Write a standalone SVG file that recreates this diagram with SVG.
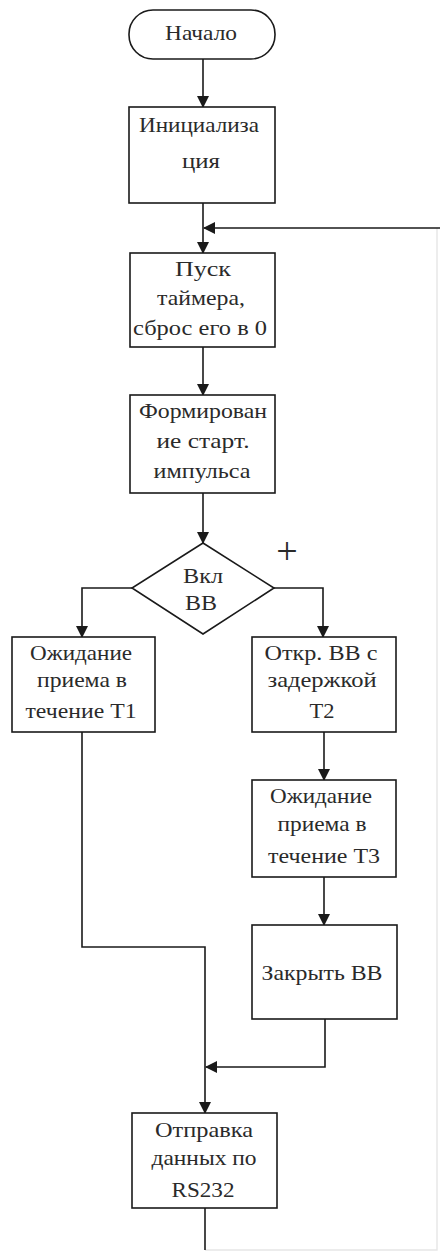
<svg xmlns="http://www.w3.org/2000/svg" width="440" height="1254" viewBox="0 0 440 1254" font-family="'Liberation Serif', 'Times New Roman', serif">
<defs>
<marker id="arr" markerUnits="userSpaceOnUse" markerWidth="12" markerHeight="12" viewBox="0 0 12 12" refX="11" refY="6" orient="auto">
<path d="M0,0 L12,6 L0,12 Z" fill="#1a1a1a"/>
</marker>
<style>
.n{fill:#fff;stroke:#1a1a1a;stroke-width:1.6}
.c{fill:none;stroke:#1a1a1a;stroke-width:1.6}
.f{fill:none;stroke:#e6e6e6;stroke-width:1.4}
text{font-family:'Liberation Serif','Times New Roman',serif;font-size:21px;font-weight:normal;fill:#2a2a2a;text-anchor:middle}
</style>
</defs>
<rect width="440" height="1254" fill="#fff"/>
<g id="connectors">
<path class="f" d="M205,1250 H437 V228"/>
<path class="c" d="M203,59 V107" marker-end="url(#arr)"/>
<path class="c" d="M203,203 V253" marker-end="url(#arr)"/>
<path class="c" d="M440,228 H204" marker-end="url(#arr)"/>
<path class="c" d="M203,347 V395" marker-end="url(#arr)"/>
<path class="c" d="M203,493 V543" marker-end="url(#arr)"/>
<path class="c" d="M132,588 H82 V637" marker-end="url(#arr)"/>
<path class="c" d="M274,588 H323 V637" marker-end="url(#arr)"/>
<path class="c" d="M324,732 V780" marker-end="url(#arr)"/>
<path class="c" d="M324,877 V925" marker-end="url(#arr)"/>
<path class="c" d="M325,1019 V1067 H206" marker-end="url(#arr)"/>
<path class="c" d="M82,732 V947 H205 V1113" marker-end="url(#arr)"/>
<path class="c" d="M205,1208 V1250"/>
</g>
<g id="start">
<rect class="n" x="129" y="10" width="146" height="49" rx="24" ry="24"/>
<text x="201" y="40" textLength="72" lengthAdjust="spacingAndGlyphs">Начало</text>
</g>
<g id="init">
<rect class="n" x="129" y="107" width="146" height="96"/>
<text x="199" y="132" textLength="120" lengthAdjust="spacingAndGlyphs">Инициализа</text>
<text x="201" y="168" textLength="38" lengthAdjust="spacingAndGlyphs">ция</text>
</g>
<g id="timer">
<rect class="n" x="130" y="253" width="145" height="94"/>
<text x="203" y="276" textLength="56" lengthAdjust="spacingAndGlyphs">Пуск</text>
<text x="201" y="305" textLength="88" lengthAdjust="spacingAndGlyphs">таймера,</text>
<text x="200" y="335" textLength="134" lengthAdjust="spacingAndGlyphs">сброс его в 0</text>
</g>
<g id="pulse">
<rect class="n" x="130" y="395" width="145" height="98"/>
<text x="203" y="418" textLength="128" lengthAdjust="spacingAndGlyphs">Формирован</text>
<text x="203" y="448" textLength="93" lengthAdjust="spacingAndGlyphs">ие старт.</text>
<text x="202" y="478" textLength="97" lengthAdjust="spacingAndGlyphs">импульса</text>
</g>
<g id="decision">
<polygon class="n" points="203,543 274,588 203,634 132,588"/>
<text x="203" y="583" textLength="40" lengthAdjust="spacingAndGlyphs">Вкл</text>
<text x="201" y="610" textLength="32" lengthAdjust="spacingAndGlyphs">ВВ</text>
<text x="287" y="564" style="font-size:38px">+</text>
</g>
<g id="wait1">
<rect class="n" x="12" y="637" width="143" height="95"/>
<text x="81" y="660" textLength="102" lengthAdjust="spacingAndGlyphs">Ожидание</text>
<text x="82" y="687" textLength="90" lengthAdjust="spacingAndGlyphs">приема в</text>
<text x="81" y="718" textLength="111" lengthAdjust="spacingAndGlyphs">течение T1</text>
</g>
<g id="open">
<rect class="n" x="252" y="637" width="144" height="95"/>
<text x="321" y="660" textLength="113" lengthAdjust="spacingAndGlyphs">Откр. ВВ с</text>
<text x="322" y="687" textLength="109" lengthAdjust="spacingAndGlyphs">задержкой</text>
<text x="322" y="718" textLength="25" lengthAdjust="spacingAndGlyphs">T2</text>
</g>
<g id="wait3">
<rect class="n" x="252" y="780" width="144" height="97"/>
<text x="321" y="803" textLength="102" lengthAdjust="spacingAndGlyphs">Ожидание</text>
<text x="322" y="831" textLength="89" lengthAdjust="spacingAndGlyphs">приема в</text>
<text x="324" y="863" textLength="112" lengthAdjust="spacingAndGlyphs">течение T3</text>
</g>
<g id="close">
<rect class="n" x="252" y="925" width="145" height="94"/>
<text x="322" y="980" textLength="121" lengthAdjust="spacingAndGlyphs">Закрыть ВВ</text>
</g>
<g id="send">
<rect class="n" x="132" y="1113" width="145" height="95"/>
<text x="204" y="1137" textLength="98" lengthAdjust="spacingAndGlyphs">Отправка</text>
<text x="204" y="1165" textLength="105" lengthAdjust="spacingAndGlyphs">данных по</text>
<text x="203" y="1197" textLength="63" lengthAdjust="spacingAndGlyphs">RS232</text>
</g>
</svg>
